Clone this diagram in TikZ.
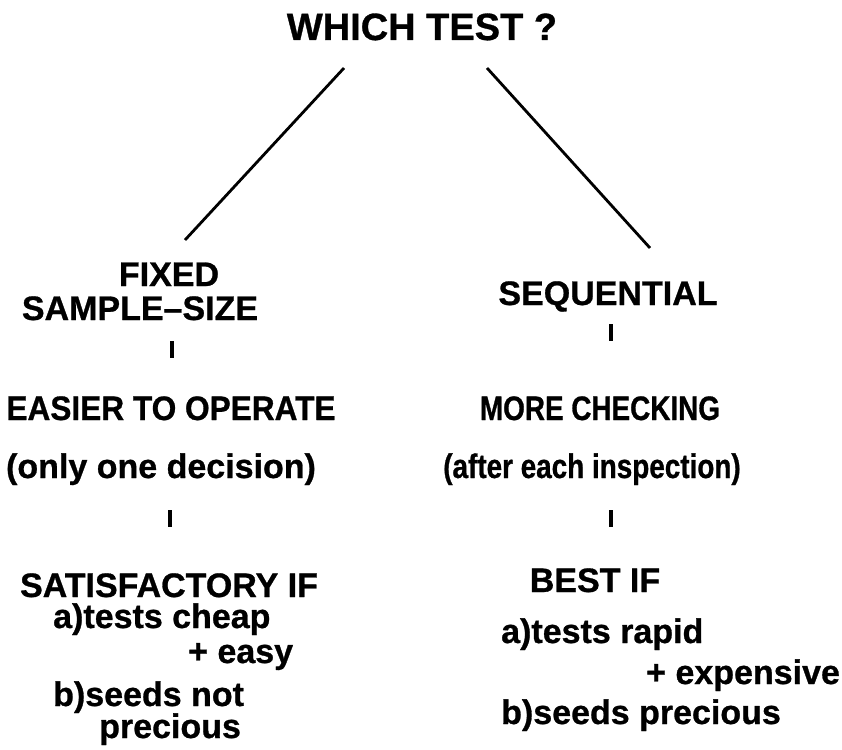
\documentclass[tikz,border=0pt]{standalone}
\usepackage{fontspec}
\setmainfont{Liberation Sans}
\newfontfamily\sketchfont{Liberation Sans}[FakeStretch=1.0,FakeBold=0.8]
\newfontfamily\midfont{Liberation Sans}[FakeStretch=0.93,FakeBold=0.8]
\newfontfamily\narrowfont{Liberation Sans}[FakeStretch=0.82,FakeBold=0.8]

\begin{document}
\begin{tikzpicture}[
  x=1pt,
  y=-1pt,
  title text/.style={
    font=\sketchfont\bfseries\fontsize{38}{44}\selectfont,
    inner sep=0pt,
    anchor=base
  },
  label text/.style={
    font=\sketchfont\bfseries\fontsize{34}{40}\selectfont,
    inner sep=0pt,
    anchor=base
  },
  mid label/.style={
    label text,
    font=\midfont\bfseries\fontsize{34}{40}\selectfont
  },
  narrow label/.style={
    label text,
    font=\narrowfont\bfseries\fontsize{34}{40}\selectfont
  },
  item text/.style={
    label text,
    anchor=base west
  },
  branch line/.style={
    draw,
    line width=2.8pt
  },
  tick line/.style={
    draw,
    line width=3.2pt
  },
]
\useasboundingbox (0,0) rectangle (842,749);

% top question
\node[title text] (which) at (422,40) {WHICH TEST ?};

% left branch
\node[label text] (fixed) at (169,286) {FIXED};
\node[label text] (samplesize) at (140,320) {SAMPLE–SIZE};
\node[mid label] (easier) at (171,420) {EASIER TO OPERATE};
\node[label text] (onedecision) at (161,478) {(only one decision)};
\node[label text] (satisfactory) at (169,597) {SATISFACTORY IF};
\node[item text] (cheap) at (53,628) {a)tests cheap};
\node[item text] (easy) at (188,663) {+ easy};
\node[item text] (notprecious) at (53,706) {b)seeds not};
\node[item text] (precious1) at (99,738) {precious};

% right branch
\node[label text] (sequential) at (608,305) {SEQUENTIAL};
\node[narrow label] (checking) at (600,420) {MORE CHECKING};
\node[narrow label] (inspection) at (592,478) {(after each inspection)};
\node[label text] (bestif) at (595,592) {BEST IF};
\node[item text] (rapid) at (501,643) {a)tests rapid};
\node[item text] (expensive) at (646,684) {+ expensive};
\node[item text] (precious2) at (501,724) {b)seeds precious};

% connector ends
\coordinate (which left) at (344,68);
\coordinate (fixed top) at (185,240);
\coordinate (which right) at (487,68);
\coordinate (sequential top) at (650,248);

\draw[branch line] (which left) -- (fixed top);
\draw[branch line] (which right) -- (sequential top);

% short ticks
\coordinate (tick1 top) at (172,341);
\coordinate (tick1 bot) at (172,358);
\coordinate (tick2 top) at (170,510);
\coordinate (tick2 bot) at (170,527);
\coordinate (tick3 top) at (611,324);
\coordinate (tick3 bot) at (611,341);
\coordinate (tick4 top) at (611,510);
\coordinate (tick4 bot) at (611,527);

\foreach \t in {1,...,4}
  \draw[tick line] (tick\t\space top) -- (tick\t\space bot);
\end{tikzpicture}
\end{document}
